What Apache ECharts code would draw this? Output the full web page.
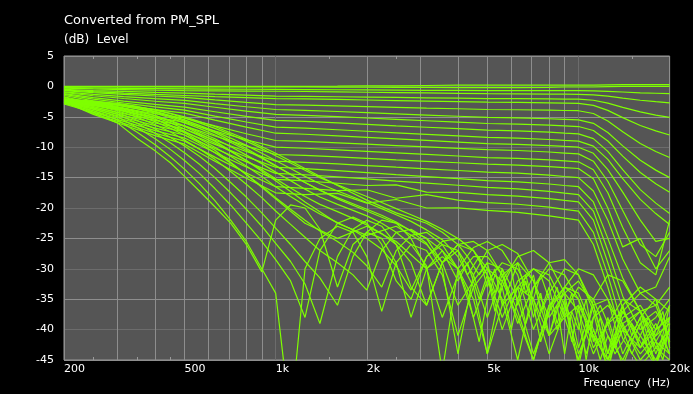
<!DOCTYPE html>
<html><head><meta charset="utf-8">
<script src="https://cdn.jsdelivr.net/npm/echarts@6/dist/echarts.min.js"></script>
<style>html,body{margin:0;padding:0;background:#000;}#c{width:693px;height:394px;}</style>
</head><body><div id="c"></div>
<script>
// ---- axes / ticks ----
const gridFreqs = [200,300,400,500,600,700,800,900,1000,2000,3000,4000,5000,6000,7000,8000,9000,10000,20000];
const labelFreqs = [200,500,1000,2000,5000,10000,20000];
const minorFreqs = [250,350,450,1500,2500,15000];

// ---- frequency grids ----
const freqS = [200,250,315,400,500,630,800,1000,1250,1600,2000,2500,3150,4000,5000,6300,8000,9000,10000,11200,12500,14000,16000,18000,20000];
const freqN = [200,250,300,350,400,450,500,560,630,710,800,900,1000,1120,1250,1400,1600,1800,2000,2240,2500,2800,3150,3550,4000,4500,5000,5600,6300,7100,8000,9000,10000,11200,12500,14000,16000,18000,20000];
const freqM = [200,300,400,500,630,800,1000,1250,1600,2000,2500,3150,3550,4000,4300,4700,5000,5300,5600,6000,6300,6700,7100,7500,8000,8500,9000,9500,10000,10600,11200,11800,12500,13200,14000,15000,16000,17000,18000,19000,20000];

// ---- smooth family (dB, on freqS) ----
const s01 = [0,0,0,0,0,0,0,0,0,0.05,0.1,0.1,0.15,0.2,0.2,0.2,0.2,0.2,0.2,0.2,0.25,0.3,0.3,0.3,0.3];
const s02 = [-0.1,-0.1,-0.1,-0.1,-0.1,-0.1,-0.1,-0.1,-0.1,-0.13,-0.14,-0.16,-0.17,-0.19,-0.2,-0.2,-0.15,-0.1,-0.1,-0.1,-0.05,0,0,0,0];
const s03 = [-0.2,-0.26,-0.31,-0.36,-0.4,-0.44,-0.47,-0.5,-0.52,-0.55,-0.58,-0.61,-0.64,-0.67,-0.7,-0.7,-0.7,-0.7,-0.7,-0.73,-0.81,-0.92,-1.05,-1.13,-1.2];
const s04 = [-0.3,-0.42,-0.52,-0.62,-0.7,-0.74,-0.77,-0.8,-0.84,-0.9,-0.96,-1.02,-1.08,-1.14,-1.2,-1.22,-1.26,-1.28,-1.3,-1.38,-1.61,-1.93,-2.28,-2.52,-2.7];
const s05 = [-0.5,-0.68,-0.83,-0.98,-1.1,-1.28,-1.45,-1.6,-1.64,-1.7,-1.76,-1.82,-1.88,-1.94,-2.0,-2.02,-2.06,-2.08,-2.1,-2.28,-2.76,-3.45,-4.2,-4.71,-5.1];
const s06 = [-0.6,-0.87,-1.1,-1.32,-1.5,-1.68,-1.85,-2.0,-2.06,-2.15,-2.24,-2.33,-2.42,-2.51,-2.6,-2.64,-2.71,-2.76,-2.8,-3.11,-3.94,-5.14,-6.44,-7.32,-8.0];
const s07 = [-0.7,-1.03,-1.3,-1.58,-1.8,-2.22,-2.64,-3.0,-3.08,-3.2,-3.32,-3.44,-3.56,-3.68,-3.8,-3.84,-3.91,-3.96,-4.0,-4.46,-5.69,-7.47,-9.39,-10.7,-11.7];
const s08 = [-0.9,-1.32,-1.67,-2.02,-2.3,-2.83,-3.35,-3.8,-3.93,-4.13,-4.32,-4.52,-4.71,-4.91,-5.1,-5.18,-5.32,-5.42,-5.5,-6.07,-7.59,-9.78,-12.15,-13.77,-15.0];
const s09 = [-1.0,-1.54,-1.99,-2.44,-2.8,-3.43,-4.06,-4.6,-4.75,-4.98,-5.2,-5.43,-5.65,-5.88,-6.1,-6.2,-6.38,-6.5,-6.6,-7.25,-8.98,-11.46,-14.16,-16.0,-17.4];
const s10 = [-1.2,-1.86,-2.41,-2.96,-3.4,-4.17,-4.94,-5.6,-5.76,-6.0,-6.24,-6.48,-6.72,-6.96,-7.2,-7.32,-7.53,-7.68,-7.8,-8.59,-10.68,-13.7,-16.97,-19.2,-20.9];
const s11 = [-1.3,-2.08,-2.73,-3.38,-3.9,-4.88,-5.86,-6.7,-6.87,-7.13,-7.38,-7.64,-7.89,-8.15,-8.4,-8.52,-8.73,-8.88,-9.0,-9.82,-12.01,-15.17,-18.59,-20.92,-22.7];
const s12 = [-1.5,-2.37,-3.1,-3.82,-4.4,-5.56,-6.71,-7.7,-7.87,-8.13,-8.38,-8.64,-8.89,-9.15,-9.4,-9.52,-9.73,-9.88,-10.0,-11.0,-13.7,-17.4,-22.0,-25.5,-25.0];
const s13 = [-1.7,-2.75,-3.63,-4.5,-5.2,-6.5,-7.79,-8.9,-9.05,-9.28,-9.5,-9.73,-9.95,-10.18,-10.4,-10.54,-10.79,-10.96,-11.1,-12.3,-15.6,-20.4,-26.0,-28.0,-24.0];
const s14 = [-1.8,-3.03,-4.06,-5.08,-5.9,-7.34,-8.77,-10.0,-10.17,-10.43,-10.68,-10.94,-11.19,-11.45,-11.7,-11.84,-12.09,-12.26,-12.4,-13.7,-17.5,-23.2,-29.0,-31.0,-22.0];
const s15 = [-2.0,-3.35,-4.48,-5.6,-6.5,-8.15,-9.79,-11.2,-11.36,-11.6,-11.84,-12.08,-12.32,-12.56,-12.8,-12.94,-13.19,-13.36,-13.5,-15.2,-20.0,-26.4,-25.0,-30.0,-27.0];
const s16 = [-2.1,-3.57,-4.8,-6.02,-7.0,-8.86,-10.71,-12.3,-12.48,-12.75,-13.02,-13.29,-13.56,-13.83,-14.1,-14.28,-14.6,-14.82,-15.0,-17.2,-22.0,-28.4,-34.0,-33.0,-28.0];
const s17 = [-2.2,-3.79,-5.12,-6.44,-7.5,-9.53,-11.56,-13.3,-13.52,-13.85,-14.18,-14.51,-14.84,-15.17,-15.5,-15.7,-16.05,-16.3,-16.5,-19.0,-25.0,-31.5,-37.0,-36.0,-33.0];
const s18 = [-2.3,-4.01,-5.44,-6.86,-8.0,-10.21,-12.41,-14.3,-14.53,-14.88,-15.22,-15.57,-15.91,-16.26,-16.6,-16.84,-17.26,-17.56,-17.8,-20.5,-27.0,-34.5,-40.0,-38.0,-35.0];
const s19 = [-2.4,-4.23,-5.76,-7.28,-8.5,-10.88,-13.26,-15.3,-15.55,-15.93,-16.3,-16.2,-17.4,-17.43,-17.8,-18.04,-18.46,-18.76,-19.0,-22.0,-29.0,-36.5,-43.0,-40.0,-38.0];
const s20 = [-2.5,-4.45,-6.08,-7.7,-9.0,-11.63,-14.25,-16.5,-16.76,-17.15,-17.0,-18.4,-17.8,-18.71,-19.1,-19.38,-19.87,-20.22,-20.5,-24.0,-31.0,-39.5,-44.0,-41.0,-36.0];
const s21 = [-2.5,-4.6,-6.35,-8.1,-9.5,-12.3,-15.1,-17.5,-17.79,-17.6,-19.2,-18.6,-20.0,-19.97,-20.4,-20.72,-21.28,-21.68,-22.0,-26.0,-33.0,-41.5,-46.0,-43.0,-40.0];

// ---- lobed family (dB, on freqN) ----
const n01 = [-2.9,-4.3,-6.0,-8.6,-10.6,-12.6,-14.8,-17.2,-19.8,-22.5,-26,-30.5,-22,-19.5,-20,-23.5,-33,-26,-24,-25,-29,-38,-30,-28,-30,-35,-44,-36,-33,-35,-41,-38,-36,-41,-45,-40,-43,-39,-44];
const n02 = [-2.8,-4.0,-5.5,-7.6,-9.6,-11.6,-13.6,-16.0,-18.8,-22,-25.5,-30,-34,-55,-30,-25,-23,-24,-28,-37,-29,-26,-27,-31,-41,-33,-30,-32,-38,-45,-36,-34,-37,-44,-39,-37,-42,-46,-40];
const n03 = [-2.7,-3.7,-5.0,-6.8,-8.6,-10.4,-12.2,-14.3,-16.8,-19.5,-22.5,-25.5,-28.5,-32,-38,-27,-22.5,-21.5,-22.5,-26,-32,-35,-28,-26,-27,-31,-38,-31,-29,-32,-38,-34,-32,-36,-44,-37,-41,-45,-40];
const n04 = [-2.6,-3.5,-4.6,-6.1,-7.7,-9.3,-10.9,-12.8,-15.0,-17.5,-20.2,-23,-25.8,-28.8,-32.5,-39,-28,-23.5,-22,-23,-26,-33,-36,-29,-26,-27,-31,-40,-33,-30,-32,-38,-45,-36,-35,-40,-37,-42,-44];
const n05 = [-2.5,-3.3,-4.3,-5.6,-7.0,-8.4,-9.8,-11.5,-13.5,-15.8,-18.2,-20.8,-23.3,-26,-28.8,-31.5,-36,-28,-24,-22,-22.5,-25,-30,-38,-31,-28,-28,-31,-37,-45,-36,-33,-34,-40,-46,-38,-36,-40,-38];
const n06 = [-2.4,-3.1,-4.0,-5.1,-6.3,-7.5,-8.8,-10.3,-12.0,-14.0,-16.1,-18.3,-20.5,-22.7,-24.8,-27,-29,-31,-33.5,-27,-24,-23.5,-25,-29,-36,-32,-29,-30,-35,-44,-37,-33,-35,-41,-45,-39,-37,-41,-39];
const n07 = [-2.4,-3.0,-3.8,-4.8,-5.8,-6.9,-8.0,-9.3,-10.9,-12.6,-14.5,-16.4,-18.3,-20.2,-22,-23.8,-25.5,-27.3,-29.5,-33,-27,-24.5,-24,-26,-30,-38,-32,-29,-30,-35,-44,-37,-33,-35,-41,-45,-39,-37,-41];
const n08 = [-2.3,-2.9,-3.6,-4.5,-5.4,-6.4,-7.4,-8.6,-10.0,-11.5,-13.1,-14.8,-16.5,-18.1,-19.6,-21,-22.4,-23.6,-25,-26.8,-29.5,-33.5,-28,-25.5,-25,-27,-31,-38,-32,-30,-31,-36,-44,-38,-36,-39,-45,-42,-38];
const n09 = [-2.3,-2.8,-3.5,-4.3,-5.1,-6.0,-7.0,-8.1,-9.3,-10.7,-12.2,-13.7,-15.2,-16.7,-18.1,-19.4,-20.6,-21.7,-22.8,-24.2,-26,-29,-36,-29,-26,-25.5,-27,-31,-39,-33,-30,-31,-35,-43,-39,-35,-37,-43,-45];
const n10 = [-2.2,-2.7,-3.3,-4.0,-4.8,-5.6,-6.5,-7.5,-8.6,-9.9,-11.3,-12.7,-14.1,-15.5,-16.9,-18.2,-19.4,-20.4,-21.3,-22.5,-24,-26,-29.5,-47,-30,-26.5,-25.5,-27,-31,-40,-34,-30,-31,-36,-45,-37,-34,-36,-42];
const n11 = [-2.2,-2.6,-3.1,-3.7,-4.4,-5.2,-6.0,-6.9,-8.0,-9.2,-10.5,-11.8,-13.1,-14.5,-15.8,-17.1,-18.3,-19.3,-20.2,-21.2,-22.3,-23.8,-25.8,-30,-44,-31,-27,-26,-27.5,-32,-41,-33,-30,-31,-35,-44,-38,-35,-37];
const n12 = [-2.1,-2.5,-3.0,-3.5,-4.1,-4.8,-5.5,-6.4,-7.4,-8.5,-9.7,-11.0,-12.2,-13.5,-14.8,-16.0,-17.2,-18.2,-19.1,-20.1,-21.1,-22.2,-23.6,-25.2,-28,-33,-44,-32,-28,-27,-29,-34,-46,-35,-31,-32,-37,-46,-36];
const n13 = [-2.1,-2.4,-2.8,-3.3,-3.9,-4.5,-5.2,-6.0,-6.9,-7.9,-9.0,-10.2,-11.4,-12.6,-13.8,-15.0,-16.2,-17.2,-18.1,-19.1,-20.1,-21.1,-22.2,-23.5,-25,-27,-30,-35,-45,-33,-29,-28.5,-31,-37,-47,-36,-33,-35,-42];

// ---- ragged family (dB, on freqM) ----
const m01 = [-2.3,-3.1,-4.2,-5.7,-7.6,-10.2,-13.0,-15.8,-18.5,-20.5,-22.5,-25,-27,-30,-34,-42,-35,-31,-33,-30,-36,-32,-38,-34,-41,-36,-44,-37,-40,-35,-42,-38,-44,-39,-36,-41,-38,-44,-40,-37,-43];
const m02 = [-2.4,-3.4,-4.8,-6.6,-9.0,-12.2,-15.5,-19,-22.5,-24.5,-23,-26,-29,-27,-31,-28,-33,-30,-36,-32,-29,-34,-31,-37,-33,-39,-35,-42,-36,-45,-38,-36,-39,-43,-40,-44,-41,-38,-42,-45,-39];
const m03 = [-2.2,-2.9,-3.8,-5.0,-6.6,-8.7,-11.0,-13.5,-16.3,-18.7,-20.8,-22.5,-24,-26,-28,-31,-29,-34,-30,-36,-33,-39,-35,-31,-35,-40,-36,-38,-43,-39,-41,-45,-41,-44,-42,-39,-43,-40,-44,-41,-44];
const m04 = [-2.5,-3.7,-5.4,-7.6,-10.5,-14.5,-18.5,-22.5,-25,-23,-25.5,-30,-27,-32,-29,-35,-31,-37,-33,-40,-35,-31,-36,-42,-37,-33,-38,-34,-39,-44,-40,-43,-38,-42,-46,-42,-39,-43,-46,-42,-38];

const smooth = [s01,s02,s03,s04,s05,s06,s07,s08,s09,s10,s11,s12,s13,s14,s15,s16,s17,s18,s19,s20,s21];
const lobed = [n01,n02,n03,n04,n05,n06,n07,n08,n09,n10,n11,n12,n13];
const ragged = [m01,m02,m03,m04];

const LINE = '#7fff00', LIGHT = '#8e8e8e', DARK = '#6c6c6c', FONT = '"DejaVu Sans"';

function mk(freq, vals) {
  return { type: 'line', xAxisIndex: 0, yAxisIndex: 0, data: freq.map((f, i) => [f, vals[i]]),
    symbol: 'none', showSymbol: false, silent: true, animation: false, clip: true, z: 3,
    lineStyle: { color: LINE, width: 1.2 } };
}
const series = [];
smooth.forEach(v => series.push(mk(freqS, v)));
lobed.forEach(v => series.push(mk(freqN, v)));
ragged.forEach(v => series.push(mk(freqM, v)));

const fmt = v => v >= 1000 ? (v / 1000) + 'k' : String(v);
const minorAxis = pos => ({
  type: 'log', logBase: 10, min: 200, max: 20000, position: pos, gridIndex: 0,
  axisLine: { show: false }, splitLine: { show: false }, axisLabel: { show: false },
  axisTick: { show: true, inside: true, length: 3, customValues: minorFreqs, lineStyle: { color: '#9a9a9a', width: 1 } }
});

const chart = echarts.init(document.getElementById('c'), null, { renderer: 'canvas' });
chart.setOption({
  backgroundColor: '#000',
  animation: false,
  grid: { left: 64, top: 56, right: 23, bottom: 34, show: true, backgroundColor: '#555555', borderColor: '#9a9a9a', borderWidth: 1 },
  xAxis: [
    { type: 'log', logBase: 10, min: 200, max: 20000, position: 'bottom',
      axisLine: { show: false },
      axisTick: { show: false, customValues: gridFreqs },
      splitLine: { show: true, lineStyle: { color: [LIGHT, LIGHT, LIGHT, LIGHT, LIGHT, LIGHT, LIGHT, LIGHT, DARK], width: 1 } },
      axisLabel: { customValues: labelFreqs, formatter: fmt, color: '#fff', fontSize: 11, fontFamily: FONT, align: 'left', margin: 4, showMinLabel: true, showMaxLabel: true } },
    minorAxis('bottom'),
    minorAxis('top')
  ],
  yAxis: { type: 'value', min: -45, max: 5, interval: 5,
    axisLine: { show: false }, axisTick: { show: false },
    splitLine: { show: true, lineStyle: { color: [LIGHT, DARK], width: 1 } },
    axisLabel: { color: '#fff', fontSize: 11, fontFamily: FONT, margin: 10 } },
  graphic: [
    { type: 'text', left: 64, top: 14, style: { text: 'Converted from PM_SPL', fill: '#fff', font: '13px ' + FONT } },
    { type: 'text', left: 64, top: 34, style: { text: '(dB)  Level', fill: '#fff', font: '12px ' + FONT } },
    { type: 'text', right: 23, top: 378, style: { text: 'Frequency  (Hz)', fill: '#fff', font: '11px ' + FONT } }
  ],
  series: series
});
</script></body></html>
